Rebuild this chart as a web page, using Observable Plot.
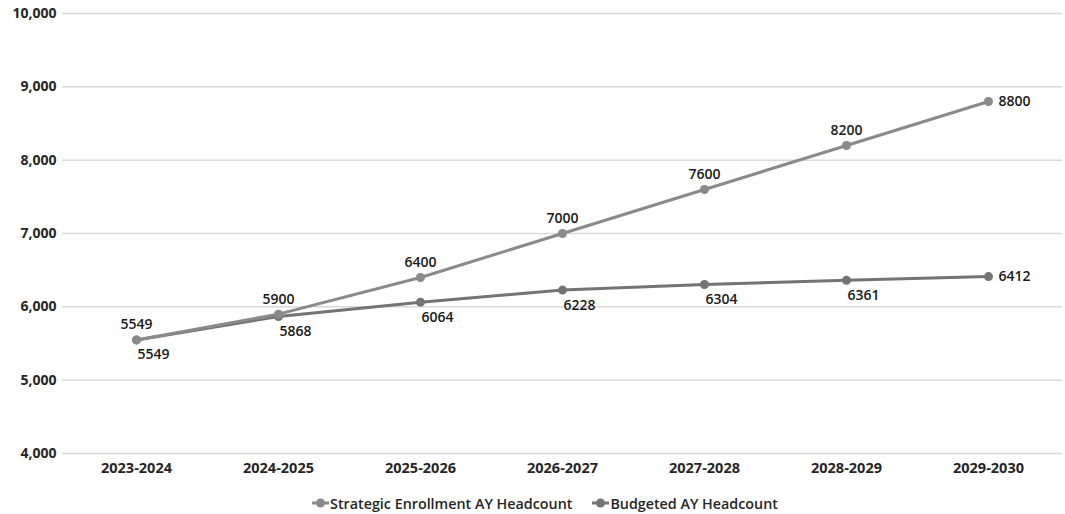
<!DOCTYPE html>
<html>
<head>
<meta charset="utf-8">
<script src="https://cdn.jsdelivr.net/npm/d3@7"></script>
<script src="https://cdn.jsdelivr.net/npm/@observablehq/plot@0.6"></script>
<style>
  html, body { margin: 0; padding: 0; background: #fff; }
  body { width: 1065px; height: 514px; overflow: hidden; font-family: "Open Sans", sans-serif; }
  #chart svg { display: block; }
  #legend { display: flex; justify-content: center; align-items: center; gap: 20px; height: 29px; padding-top: 7px; margin-left: 25px;
    font-size: 14.3px; font-weight: 600; color: #262626; box-sizing: border-box; }
  #legend .item { display: flex; align-items: center; gap: 1px; }
</style>
</head>
<body>
<div id="chart"></div>
<div id="legend"></div>
<script>
const years = ["2023-2024", "2024-2025", "2025-2026", "2026-2027", "2027-2028", "2028-2029", "2029-2030"];
const strategic = [5549, 5900, 6400, 7000, 7600, 8200, 8800];
const budgeted = [5549, 5868, 6064, 6228, 6304, 6361, 6412];
const seriesNames = ["Strategic Enrollment AY Headcount", "Budgeted AY Headcount"];
const seriesColors = ["#8a8a8a", "#747474"];
const yTicks = [4000, 5000, 6000, 7000, 8000, 9000, 10000];

const sData = years.map((y, i) => ({year: y, value: strategic[i], last: i === years.length - 1}));
const bData = years.map((y, i) => ({year: y, value: budgeted[i], last: i === years.length - 1}));
const fmt = d3.format(",");
const font = "Open Sans, sans-serif";

const chart = Plot.plot({
  width: 1065,
  height: 485,
  marginTop: 13,
  marginBottom: 32,
  marginLeft: 62,
  marginRight: 3,
  style: {fontFamily: font, background: "#fff", overflow: "visible"},
  x: {type: "point", domain: years, padding: 0.5, label: null},
  y: {domain: [4000, 10000], label: null},
  marks: [
    Plot.gridY(yTicks, {stroke: "#d9d9d9", strokeOpacity: 1, strokeWidth: 1.5}),
    Plot.axisY(yTicks, {tickSize: 0, tickPadding: 6, tickFormat: fmt, fontSize: 14, fontWeight: 700, fill: "#262626", label: null}),
    Plot.axisX({tickSize: 0, tickPadding: 9, fontSize: 14.5, fontWeight: 700, fill: "#262626", label: null}),
    Plot.line(bData, {x: "year", y: "value", stroke: seriesColors[1], strokeWidth: 3}),
    Plot.line(sData, {x: "year", y: "value", stroke: seriesColors[0], strokeWidth: 3}),
    Plot.dot(bData, {x: "year", y: "value", fill: seriesColors[1], r: 4.5}),
    Plot.dot(sData, {x: "year", y: "value", fill: seriesColors[0], r: 4.5}),
    Plot.text(sData.filter(d => !d.last), {x: "year", y: "value", text: d => String(d.value), dy: -15, fontSize: 14, fontWeight: 600, fill: "#1a1a1a"}),
    Plot.text(sData.filter(d => d.last), {x: "year", y: "value", text: d => String(d.value), dx: 10, textAnchor: "start", fontSize: 14, fontWeight: 600, fill: "#1a1a1a"}),
    Plot.text(bData.filter(d => !d.last), {x: "year", y: "value", text: d => String(d.value), dx: 1, dy: 15, textAnchor: "start", fontSize: 14, fontWeight: 600, fill: "#1a1a1a"}),
    Plot.text(bData.filter(d => d.last), {x: "year", y: "value", text: d => String(d.value), dx: 10, textAnchor: "start", fontSize: 14, fontWeight: 600, fill: "#1a1a1a"})
  ]
});
document.getElementById("chart").appendChild(chart);

const legend = document.getElementById("legend");
seriesNames.forEach((name, i) => {
  const item = document.createElement("div");
  item.className = "item";
  item.innerHTML = `<svg width="17" height="10"><line x1="0" y1="5" x2="17" y2="5" stroke="${seriesColors[i]}" stroke-width="3"/><circle cx="8.5" cy="5" r="4.5" fill="${seriesColors[i]}"/></svg><span>${name}</span>`;
  legend.appendChild(item);
});
</script>
</body>
</html>
